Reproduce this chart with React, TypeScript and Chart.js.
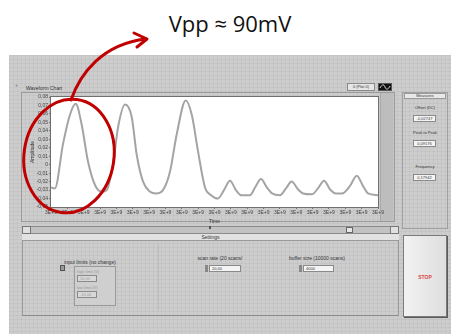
import React, { useEffect, useRef } from "react";
import { Chart, registerables } from "chart.js";

Chart.register(...registerables);

// Waveform samples (time in chart units, amplitude in volts)
const timeSamples = [
  0, 2.4, 7.3, 11.6, 15.1, 18.8, 22.6, 26.9, 31.2, 34.1,
  37.9, 41.0, 45.3, 49.4, 52.4, 56.3, 60.6, 64.2, 68.5, 72.8,
  76.9, 82.4, 86.1, 89.9, 94.2, 97.9, 102.1, 105.8, 109.5, 113.1,
  116.2, 121.7, 124.8, 128.4, 132.1, 135.2, 140.1, 143.7, 147.2, 151.0,
  154.1, 159.6, 163.3, 167.0, 170.6, 174.3, 178.0, 182.9, 187.0, 190.8,
  193.9, 200,
];
const amplitude = [
  -0.027, -0.028, 0.024, 0.059, 0.072, 0.047, 0.004, -0.024, -0.032, -0.030,
  0.0, 0.044, 0.071, 0.056, 0.012, -0.020, -0.032, -0.034, -0.030, -0.008,
  0.036, 0.076, 0.059, 0.016, -0.027, -0.036, -0.040, -0.030, -0.019, -0.030,
  -0.036, -0.036, -0.027, -0.017, -0.027, -0.034, -0.036, -0.028, -0.020, -0.029,
  -0.034, -0.035, -0.028, -0.019, -0.029, -0.034, -0.034, -0.025, -0.013, -0.025,
  -0.034, -0.036,
];

const xTickLabel = "3E+9";
const yMin = -0.05;
const yMax = 0.08;

const measureLabels = ["Offset (DC)", "Peak to Peak", "Frequency"];
const measureValues = ["-0,02747", "0,09176", "0,17942"];

const FONT = "'Liberation Sans', Arial, sans-serif";

const abs = (
  left: number,
  top: number,
  width: number,
  height: number,
  extra: React.CSSProperties = {}
): React.CSSProperties => ({
  position: "absolute",
  left,
  top,
  width,
  height,
  boxSizing: "border-box",
  ...extra,
});

const tiny: React.CSSProperties = {
  fontFamily: FONT,
  fontSize: 5,
  lineHeight: "6px",
  color: "#333",
  whiteSpace: "nowrap",
};

function formatAmp(v: number): string {
  const r = Math.round(v * 100);
  if (r === 0) return "0";
  return (r / 100).toFixed(2).replace(".", ",");
}

const plotFrame = {
  id: "plotFrame",
  beforeDatasetsDraw(chart: any) {
    const { ctx, chartArea } = chart;
    ctx.save();
    ctx.fillStyle = "#ffffff";
    ctx.fillRect(chartArea.left, chartArea.top, chartArea.width, chartArea.height);
    ctx.restore();
  },
  afterDraw(chart: any) {
    const { ctx, chartArea } = chart;
    ctx.save();
    ctx.strokeStyle = "#6f6f6f";
    ctx.lineWidth = 1;
    ctx.strokeRect(chartArea.left - 0.5, chartArea.top - 0.5, chartArea.width + 1, chartArea.height + 1);
    ctx.restore();
  },
};

function WaveformChart() {
  const ref = useRef<HTMLCanvasElement | null>(null);
  useEffect(() => {
    if (!ref.current) return;
    Chart.defaults.font.family = FONT;
    const chart = new Chart(ref.current, {
      type: "line",
      data: {
        datasets: [
          {
            data: timeSamples.map((t, i) => ({ x: t, y: amplitude[i] })),
            borderColor: "#a4a4a4",
            borderWidth: 2,
            pointRadius: 0,
            cubicInterpolationMode: "monotone",
            fill: false,
          },
        ],
      },
      options: {
        animation: false,
        responsive: false,
        maintainAspectRatio: false,
        layout: { padding: { top: 4, right: 7, bottom: 0, left: 0 } },
        plugins: { legend: { display: false }, tooltip: { enabled: false } },
        scales: {
          x: {
            type: "linear",
            min: 0,
            max: 200,
            ticks: {
              stepSize: 10,
              autoSkip: false,
              maxRotation: 0,
              callback: () => xTickLabel,
              font: { size: 5 },
              color: "#444",
              padding: 1,
            },
            grid: { drawOnChartArea: false, tickLength: 2, color: "#777" },
            border: { color: "#6f6f6f" },
            title: { display: true, text: "Time", font: { size: 5 }, color: "#333", padding: 0 },
            afterFit: (s: any) => {
              s.height = 18;
            },
          },
          y: {
            min: yMin,
            max: yMax,
            ticks: {
              stepSize: 0.01,
              autoSkip: false,
              callback: (v: any) => formatAmp(Number(v)),
              font: { size: 5 },
              color: "#444",
              padding: 1,
            },
            grid: { drawOnChartArea: false, tickLength: 2, color: "#777" },
            border: { color: "#6f6f6f" },
            title: {
              display: true,
              text: "Amplitude",
              font: { size: 5 },
              color: "#333",
              padding: { top: 10, bottom: 0 },
            },
            afterFit: (s: any) => {
              s.width = 31;
            },
          },
        },
      },
      plugins: [plotFrame],
    });
    return () => chart.destroy();
  }, []);
  return <canvas ref={ref} width={365} height={132} style={abs(20, 93, 365, 132)} />;
}

export default function App() {
  const panelBg: React.CSSProperties = {
    backgroundColor: "#cdcdcd",
    backgroundImage:
      "linear-gradient(rgba(0,0,0,0.035) 1px, transparent 1px), linear-gradient(90deg, rgba(0,0,0,0.035) 1px, transparent 1px)",
    backgroundSize: "4px 4px",
  };
  const box: React.CSSProperties = {
    background: "#f4f4f4",
    border: "1px solid #8a8a8a",
    ...tiny,
    paddingLeft: 2,
  };
  return (
    <div style={{ position: "absolute", left: 0, top: 0, width: 451, height: 334, overflow: "hidden", background: "#fff" }}>
      {/* heading */}
      <div
        style={abs(150, 8, 160, 30, {
          fontFamily: "'Open Sans', 'Liberation Sans', sans-serif",
          fontSize: 22,
          lineHeight: "30px",
          color: "#111",
          textAlign: "center",
        })}
      >
        Vpp ≈ 90mV
      </div>

      {/* front panel */}
      <div style={abs(9, 55, 442, 279, panelBg)} />
      <div style={abs(15, 82, 4, 4, { ...tiny, color: "#777" })}>+</div>

      {/* waveform chart frame */}
      <div style={abs(26, 85, 50, 6, tiny)}>Waveform Chart</div>
      <div style={abs(21, 92, 374, 130, { border: "1px solid #9a9a9a" })} />
      <div style={abs(380, 93, 13, 128, { background: "#bdbdbd", borderLeft: "1px solid #a8a8a8" })} />
      <div style={abs(347, 83, 28, 8, { ...box, background: "#e6e6e6", fontSize: 4, lineHeight: "6px", textAlign: "center", paddingLeft: 0 })}>
        0 (Plot 0)
      </div>
      <div style={abs(378, 83, 14, 8, { background: "#111", border: "1px solid #555" })}>
        <svg width="12" height="6" style={{ position: "absolute", left: 0, top: 0 }}>
          <path d="M1,4 C3,0 5,0 6,3 S9,6 11,2" stroke="#fff" strokeWidth="0.8" fill="none" />
        </svg>
      </div>
      <WaveformChart />

      {/* measures */}
      <div style={abs(402, 92, 46, 137, { border: "1px solid #a0a0a0" })} />
      <div style={abs(404, 93, 42, 6, { ...tiny, background: "#e8e8e8", border: "1px solid #9a9a9a", textAlign: "center", lineHeight: "4px", fontSize: 4 })}>
        Measures
      </div>
      {measureLabels.map((label, i) => {
        const top = [105, 130, 164][i];
        return (
          <React.Fragment key={label}>
            <div style={abs(404, top, 42, 6, { ...tiny, fontSize: 4, textAlign: "center" })}>{label}</div>
            <div style={abs(413, top + 10, 23, 7, { ...box, fontSize: 4, lineHeight: "5px", textAlign: "center", paddingLeft: 0 })}>
              {measureValues[i]}
            </div>
          </React.Fragment>
        );
      })}
      <div style={abs(392, 228, 6, 6, { background: "#bbb", border: "1px solid #777" })} />

      {/* scrollbar and settings tab */}
      <div style={abs(22, 226, 377, 8, { background: "#c2c2c2", border: "1px solid #8c8c8c" })} />
      <div style={abs(22, 226, 9, 8, { background: "#e0e0e0", border: "1px solid #777" })} />
      <div style={abs(390, 226, 9, 8, { background: "#e0e0e0", border: "1px solid #777" })} />
      <div style={abs(346, 227, 7, 6, { background: "#e6e6e6", border: "1px solid #666" })} />
      <div style={abs(209, 226, 2, 3, { background: "#555" })} />
      <div style={abs(22, 234, 377, 7, { ...tiny, background: "#e2e2e2", borderBottom: "1px solid #9a9a9a", textAlign: "center", lineHeight: "7px" })}>
        Settings
      </div>
      <div style={abs(22, 241, 377, 75, { borderLeft: "1px solid #9a9a9a", borderRight: "1px solid #9a9a9a", borderBottom: "1px solid #8a8a8a" })} />
      <div style={abs(158, 245, 1, 65, { background: "#bdbdbd" })} />

      {/* input limits cluster */}
      <div style={abs(60, 259, 60, 6, { ...tiny, textAlign: "center" })}>input limits (no change)</div>
      <div style={abs(60, 265, 5, 6, { background: "#999", border: "1px solid #555" })} />
      <div style={abs(74, 266, 42, 40, { border: "1px solid #9a9a9a", background: "#cfcfcf" })} />
      <div style={abs(77, 269, 36, 5, { ...tiny, color: "#999", fontSize: 4 })}>high limit (V)</div>
      <div style={abs(77, 275, 20, 7, { ...box, color: "#999", background: "#d8d8d8", fontSize: 4, lineHeight: "5px" })}>10,00</div>
      <div style={abs(77, 285, 36, 5, { ...tiny, color: "#999", fontSize: 4 })}>low limit (V)</div>
      <div style={abs(77, 291, 20, 7, { ...box, color: "#999", background: "#d8d8d8", fontSize: 4, lineHeight: "5px" })}>-10,00</div>

      {/* scan rate / buffer size */}
      <div style={abs(185, 255, 70, 6, { ...tiny, textAlign: "center" })}>scan rate (20 scans/</div>
      <div style={abs(205, 265, 3, 7, { background: "#888" })} />
      <div style={abs(209, 265, 32, 7, { ...box, fontSize: 4, lineHeight: "5px" })}>20,00</div>
      <div style={abs(282, 255, 70, 6, { ...tiny, textAlign: "center" })}>buffer size (10000 scans)</div>
      <div style={abs(299, 265, 3, 7, { background: "#888" })} />
      <div style={abs(303, 265, 31, 7, { ...box, fontSize: 4, lineHeight: "5px" })}>4000</div>

      {/* stop button */}
      <div
        style={abs(403, 235, 44, 82, {
          background: "linear-gradient(90deg, #f2f2f2, #dedede)",
          border: "1px solid #7a7a7a",
          boxShadow: "1px 1px 0 #5a5a5a",
        })}
      >
        <div style={{ ...tiny, position: "absolute", left: 0, right: 0, top: 38, textAlign: "center", color: "#d94848", fontWeight: "bold" }}>
          STOP
        </div>
      </div>

      {/* red callout */}
      <svg width="451" height="334" style={{ position: "absolute", left: 0, top: 0, pointerEvents: "none" }}>
        <ellipse cx="69" cy="156" rx="45" ry="57" transform="rotate(8 69 156)" stroke="#c00000" strokeWidth="3" fill="none" />
        <path d="M71,100 C80,74 102,44 146,39" stroke="#c00000" strokeWidth="3" fill="none" strokeLinecap="round" />
        <path d="M134,33 L147,39 L137,47" stroke="#c00000" strokeWidth="3" fill="none" strokeLinecap="round" strokeLinejoin="round" />
      </svg>
    </div>
  );
}
